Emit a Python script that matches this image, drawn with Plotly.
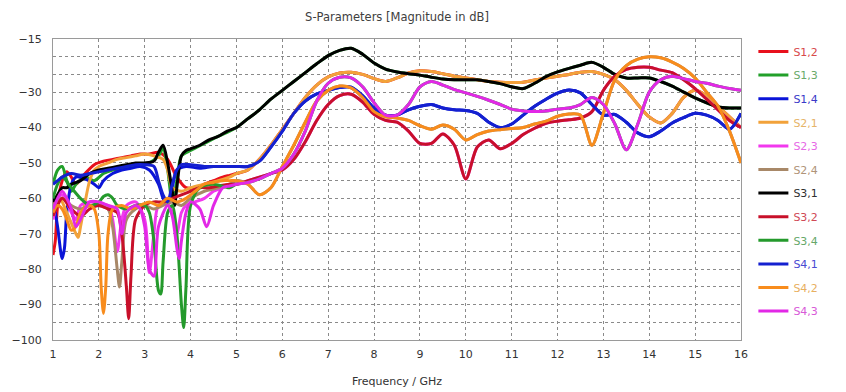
import plotly.graph_objects as go

# ---------------- data ----------------
SERIES_NAMES = ["S1,2", "S1,3", "S1,4", "S2,1", "S2,3", "S2,4",
                "S3,1", "S3,2", "S3,4", "S4,1", "S4,2", "S4,3"]

LINE_COLORS = ["#e8101c", "#22a02a", "#0a14d8", "#f2a23a", "#f238ee", "#a88868",
               "#000000", "#c8102a", "#249a2c", "#1420d0", "#f88c1c", "#e228e6"]
TEXT_COLORS = ["#d84a4a", "#6aaa6a", "#3a3ac8", "#e6b468", "#e66ae6", "#b09478",
               "#303030", "#d04a56", "#66a86a", "#4a4ad2", "#e8b060", "#d85ad8"]

# shared frequency grid above 5 GHz (GHz)
HIGH_F = [5.0, 5.25, 5.5, 5.75, 6.0, 6.25, 6.5, 6.75, 7.0, 7.25, 7.5, 7.75,
          8.0, 8.25, 8.5, 8.75, 9.0, 9.25, 9.5, 9.75, 10.0, 10.25, 10.5, 10.75,
          11.0, 11.25, 11.5, 11.75, 12.0, 12.25, 12.5, 12.75, 13.0, 13.25, 13.5, 13.75,
          14.0, 14.25, 14.5, 14.75, 15.0, 15.25, 15.5, 15.75, 16.0]

# above 5 GHz reciprocal pairs coincide (later trace covers earlier one)
HIGH_BLACK = [-40, -37.5, -35, -32, -29.5, -27, -24.5, -22, -19.7, -18.2, -17.6, -19.3,
              -21.8, -23.5, -24.3, -24.8, -25.2, -25.8, -26.3, -26.5, -26.5, -26.5, -27, -27.6,
              -28.5, -29, -27.5, -25.6, -24.3, -23.3, -22.4, -21.6, -23, -25, -26, -26,
              -26, -27, -28.3, -30, -31.6, -33, -34.2, -34.5, -34.5]
HIGH_ORANGE_A = [-53, -52, -49, -45, -40.5, -36, -31.5, -28, -25.7, -24.6, -24.4, -25,
                 -26.2, -27, -26, -24.6, -24, -24.2, -24.8, -25.5, -26, -26.5, -27, -27.2,
                 -27.3, -27.2, -26.6, -26, -25.5, -25, -24.4, -24.2, -25, -26.5, -29.5, -33.5,
                 -37, -38.7, -36, -31.5, -29.5, -31, -34, -37, -40]
HIGH_ORANGE_B = [-55, -56, -59, -57, -51, -45, -38.5, -32.5, -29.5, -28.3, -28.8, -31.5,
                 -35.5, -37, -37.3, -38, -39.5, -40.5, -39.3, -40.5, -43.5, -42, -41, -40.6,
                 -40.3, -40, -39, -38.2, -36.8, -36.2, -36.5, -45, -36, -26.5, -22.5, -20.7,
                 -20, -20.3, -21.5, -23.3, -26, -30, -34, -41, -50]
HIGH_BLUE = [-51, -51, -49.5, -45.5, -41, -36, -32.5, -30.5, -29.5, -28.7, -28.6, -31,
             -34.5, -36.5, -36.5, -35, -34, -33.5, -34.5, -35, -35.2, -36, -38.5, -40,
             -39, -36.5, -34, -32, -30.3, -29.4, -30.2, -33.5, -36.5, -36.3, -38.5, -41.5,
             -42.6, -41, -38.7, -37.2, -36, -36.5, -38, -40.5, -36]
HIGH_RED = [-56, -55, -54, -53, -52, -49, -44, -38, -33.5, -31, -30.6, -32.8,
            -36.3, -38, -38.5, -41, -44.5, -44.5, -41.8, -45, -54.5, -45.5, -43.5, -46,
            -44.5, -42, -40.2, -38.8, -38.2, -37.8, -37.3, -35.5, -29.5, -25.5, -23.6, -23,
            -23, -23.8, -24.5, -26.5, -29, -32, -35, -38, -40]
HIGH_MAGENTA = [-56, -55.5, -54.5, -53, -51.5, -47.5, -41, -32.5, -27.5, -25.8, -26, -28.5,
                -33, -36.5, -36.5, -33.5, -28.5, -27, -28, -29.3, -30.2, -31.2, -32.3, -33.5,
                -34.8, -35.3, -35.5, -35.3, -34.8, -34.5, -33.5, -31.5, -33.5, -39, -46.3, -39,
                -30, -26.5, -25.5, -26.2, -27, -27.5, -28.3, -29, -29.5]

# below 5 GHz every trace differs
LOW_F_S12 = [1.0, 1.05, 1.1, 1.2, 1.3, 1.4, 1.5, 1.7, 1.9, 2.1, 2.3, 2.5, 2.7, 2.9, 3.1, 3.3,
             3.5, 3.7, 3.9, 4.1, 4.3, 4.5, 4.7, 4.85]
LOW_DB_S12 = [-76, -72, -62, -55, -52.5, -54, -56, -53, -50.5, -49.5, -49, -48.5, -48, -47.5,
              -47.5, -47, -49, -54, -57, -57, -56, -55, -54, -53.5]

LOW_F_S13 = [1.0, 1.1, 1.2, 1.3, 1.4, 1.5, 1.7, 1.9, 2.1, 2.3, 2.5, 2.7, 2.9, 3.1, 3.3, 3.4,
             3.5, 3.6, 3.7, 3.8, 4.0, 4.3, 4.6, 4.85]
LOW_DB_S13 = [-56, -52, -51, -55, -58, -56, -54, -55, -53, -52, -51.5, -51, -50.5, -50, -48,
              -46, -52, -61, -55, -48, -46.5, -44.5, -42.5, -41]

LOW_F_S14 = [1.0, 1.1, 1.2, 1.25, 1.3, 1.4, 1.5, 1.7, 1.9, 2.0, 2.1, 2.3, 2.5, 2.7, 2.9, 3.1,
             3.3, 3.4, 3.5, 3.6, 3.7, 3.9, 4.2, 4.5, 4.8]
LOW_DB_S14 = [-60, -68, -77, -74, -64, -56, -54, -54.5, -56, -57, -55, -53, -52, -51.5, -51,
              -52, -56, -60, -62, -57, -52, -51, -51.5, -51, -51]

LOW_F_S21 = [1.0, 1.1, 1.2, 1.3, 1.4, 1.5, 1.55, 1.6, 1.7, 1.8, 1.9, 2.0, 2.2, 2.4, 2.6, 2.8,
             3.0, 3.2, 3.4, 3.5, 3.6, 3.8, 4.0, 4.3, 4.6, 4.85]
LOW_DB_S21 = [-62, -59, -61, -64, -67, -70, -71, -68, -61, -55, -52, -51, -50, -49, -48.5,
              -48, -47.5, -48, -49, -52, -57, -58, -57, -56, -55, -54]

LOW_F_S23 = [1.0, 1.05, 1.1, 1.2, 1.3, 1.4, 1.5, 1.6, 1.8, 2.0, 2.2, 2.3, 2.4, 2.5, 2.6, 2.8,
             3.0, 3.1, 3.2, 3.3, 3.5, 3.6, 3.7, 3.8, 3.9, 4.1, 4.3, 4.5, 4.7, 4.85]
LOW_DB_S23 = [-66, -63, -60, -59, -61, -64, -66, -62, -61, -61.5, -62, -66, -75, -66, -62,
              -61, -66, -81, -70, -62, -61.5, -64, -70, -64, -62, -61, -60, -58, -57, -56]

LOW_F_S24 = [1.0, 1.2, 1.4, 1.6, 1.8, 2.0, 2.2, 2.3, 2.4, 2.45, 2.5, 2.6, 2.8, 3.0, 3.2, 3.4,
             3.6, 3.8, 4.0, 4.3, 4.6, 4.85]
LOW_DB_S24 = [-62, -60, -62, -63, -62, -62, -63, -68, -80, -85, -78, -66, -63, -62, -63,
              -62, -61, -62, -60, -58, -57, -56]

LOW_F_S31 = [1.0, 1.1, 1.2, 1.3, 1.4, 1.6, 1.8, 2.0, 2.2, 2.4, 2.6, 2.8, 3.0, 3.2, 3.3, 3.4,
             3.5, 3.6, 3.65, 3.7, 3.8, 3.9, 4.0, 4.2, 4.4, 4.6, 4.8]
LOW_DB_S31 = [-61, -59, -57, -57, -56, -55, -53, -52, -51.5, -51, -50.5, -50, -50, -49.5,
              -47, -45, -50, -58, -62, -57, -48, -46.5, -46, -45, -43.5, -42.5, -41]

LOW_F_S32 = [1.0, 1.1, 1.2, 1.4, 1.6, 1.8, 2.0, 2.2, 2.4, 2.5, 2.6, 2.65, 2.7, 2.8, 3.0, 3.2,
             3.4, 3.6, 3.8, 4.0, 4.2, 4.4, 4.6, 4.85]
LOW_DB_S32 = [-65, -62, -60, -63, -65, -63, -62, -63, -64, -70, -85, -94, -82, -66, -62, -61,
              -61, -60, -59, -58, -57, -57, -56.5, -56]

LOW_F_S34 = [1.0, 1.1, 1.2, 1.4, 1.6, 1.8, 2.0, 2.1, 2.2, 2.3, 2.4, 2.6, 2.8, 3.0, 3.1, 3.2,
             3.3, 3.35, 3.4, 3.5, 3.6, 3.7, 3.8, 3.85, 3.9, 4.0, 4.2, 4.5, 4.85]
LOW_DB_S34 = [-60, -56, -54, -57, -60, -62, -61, -59.5, -59, -60, -62, -63, -62, -62, -64,
              -72, -86, -87, -78, -64, -62, -70, -90, -96.5, -85, -62, -57, -56, -57]

LOW_F_S41 = [1.0, 1.1, 1.2, 1.4, 1.6, 1.8, 2.0, 2.2, 2.4, 2.6, 2.8, 3.0, 3.2, 3.3, 3.4, 3.5,
             3.6, 3.7, 3.8, 4.0, 4.3, 4.6, 4.85]
LOW_DB_S41 = [-56, -55, -54, -53, -53.5, -53, -52.5, -52, -51.5, -51, -50.5, -50.5, -51, -55,
              -59, -61, -56, -52, -50.5, -50.5, -51, -51, -51]

LOW_F_S42 = [1.0, 1.1, 1.2, 1.3, 1.4, 1.5, 1.6, 1.8, 1.9, 2.0, 2.05, 2.1, 2.15, 2.2, 2.3, 2.5,
             2.7, 2.9, 3.1, 3.3, 3.5, 3.7, 3.9, 4.1, 4.3, 4.5, 4.7, 4.85]
LOW_DB_S42 = [-64, -62, -63, -66, -69, -68, -64, -62, -63, -70, -85, -92.5, -85, -70, -63,
              -62, -63, -62, -61, -62, -60, -61, -60, -58, -56, -55.5, -55, -55]

LOW_F_S43 = [1.0, 1.1, 1.2, 1.3, 1.4, 1.5, 1.6, 1.7, 1.8, 2.0, 2.2, 2.4, 2.5, 2.6, 2.8, 2.9,
             3.0, 3.1, 3.2, 3.3, 3.5, 3.6, 3.7, 3.75, 3.8, 3.9, 4.0, 4.2, 4.35, 4.5, 4.7, 4.85]
LOW_DB_S43 = [-63, -60, -58, -60, -63, -68, -66, -63, -61, -61, -62, -63, -70, -64, -62, -63,
              -68, -80, -82, -68, -62, -65, -74, -77, -72, -64, -61, -63, -68, -62, -57, -56.5]

LOW_F = [LOW_F_S12, LOW_F_S13, LOW_F_S14, LOW_F_S21, LOW_F_S23, LOW_F_S24,
         LOW_F_S31, LOW_F_S32, LOW_F_S34, LOW_F_S41, LOW_F_S42, LOW_F_S43]
LOW_DB = [LOW_DB_S12, LOW_DB_S13, LOW_DB_S14, LOW_DB_S21, LOW_DB_S23, LOW_DB_S24,
          LOW_DB_S31, LOW_DB_S32, LOW_DB_S34, LOW_DB_S41, LOW_DB_S42, LOW_DB_S43]
HIGH_DB = [HIGH_ORANGE_A, HIGH_BLACK, HIGH_BLUE, HIGH_ORANGE_A, HIGH_RED, HIGH_ORANGE_B,
           HIGH_BLACK, HIGH_RED, HIGH_MAGENTA, HIGH_BLUE, HIGH_ORANGE_B, HIGH_MAGENTA]

Y_TICKS = [-15, -30, -40, -50, -60, -70, -80, -90, -100]
X_TICKS = list(range(1, 17))

for h in HIGH_DB:
    assert len(h) == len(HIGH_F), len(h)
for f, d in zip(LOW_F, LOW_DB):
    assert len(f) == len(d), (len(f), len(d))

# ---------------- figure ----------------
fig = go.Figure()
for i, name in enumerate(SERIES_NAMES):
    fig.add_trace(go.Scatter(
        x=LOW_F[i] + HIGH_F,
        y=LOW_DB[i] + HIGH_DB[i],
        mode="lines",
        name=f"<span style='color:{TEXT_COLORS[i]}'>{name}</span>",
        legendgroup=name,
        line=dict(color=LINE_COLORS[i], width=3, shape="spline", smoothing=0.8),
    ))

grid = dict(showgrid=True, gridcolor="#8a8a8a", gridwidth=1, griddash="3px,3px")

fig.update_layout(
    width=846, height=392,
    margin=dict(l=53, r=105, t=39, b=52, autoexpand=False),
    paper_bgcolor="white", plot_bgcolor="white",
    font=dict(family="DejaVu Sans", size=11, color="#333333"),
    title=dict(text="S-Parameters [Magnitude in dB]", x=0.5, xref="paper",
               y=1 - 17 / 392, yanchor="middle", xanchor="center",
               font=dict(size=11.5, color="#404040")),
    showlegend=True,
    legend=dict(x=1.018, xanchor="left", y=1 + 2 / 300, yanchor="top",
                font=dict(size=11), tracegroupgap=4.6, bgcolor="rgba(0,0,0,0)",
                itemwidth=30, maxheight=380),
    xaxis=dict(range=[1, 16], tickvals=X_TICKS, showline=True, linecolor="#9a9a9a",
               linewidth=1, mirror=True, zeroline=False, ticks="", ticklabelstandoff=4,
               automargin=False, tickfont=dict(size=11), **grid),
    yaxis=dict(range=[-100, -15], tickvals=Y_TICKS, showline=True, linecolor="#9a9a9a",
               linewidth=1, mirror=True, zeroline=False, ticks="", ticklabelstandoff=8,
               tickfont=dict(size=11), automargin=False,
               minor=dict(tick0=-100, dtick=5, showgrid=True, gridcolor="#8a8a8a",
                          griddash="3px,3px", gridwidth=1),
               **grid),
    annotations=[dict(text="Frequency / GHz", xref="paper", yref="paper", x=0.5,
                      y=-41 / 300, xanchor="center", yanchor="middle", showarrow=False,
                      font=dict(size=11, color="#333333"))],
)

fig.write_html("out.html")
